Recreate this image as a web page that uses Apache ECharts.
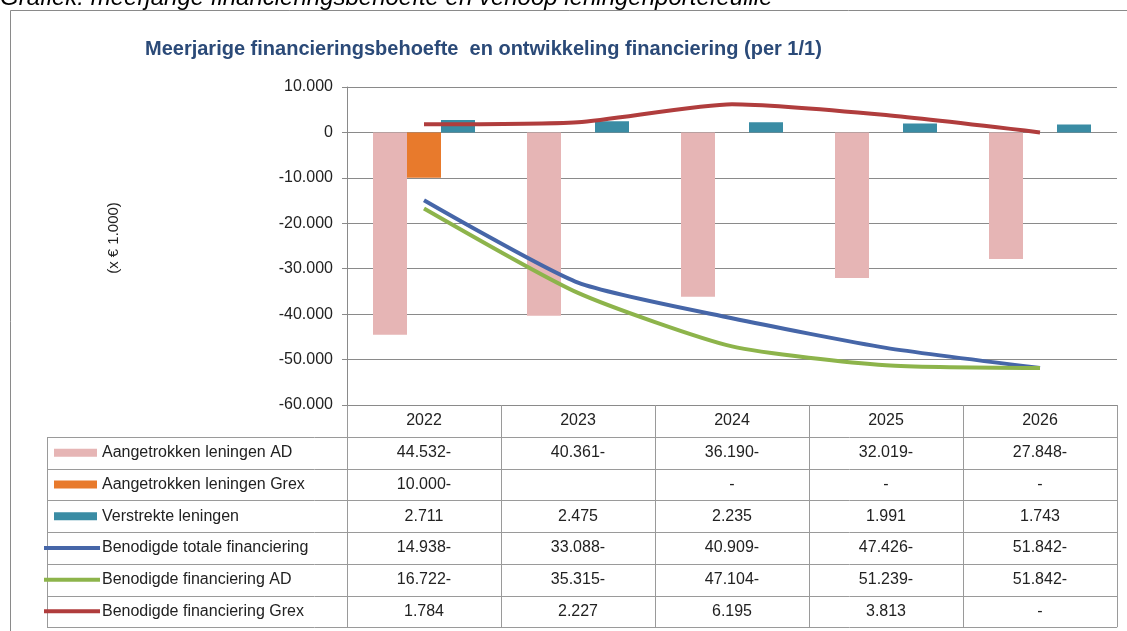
<!DOCTYPE html>
<html>
<head>
<meta charset="UTF-8">
<title>Meerjarige financieringsbehoefte</title>
<script type="text/javascript" src="https://cdn.jsdelivr.net/npm/echarts@6/dist/echarts.min.js"></script>
<style>body{margin:0;background:#fff}</style>
</head>
<body>
	<div id="box" style="width:1127px;height:631px;"></div>
	<script type="text/javascript">
		// data (x € 1.000)
		var years = ['2022', '2023', '2024', '2025', '2026'];
		var adLeningen = [-44532, -40361, -36190, -32019, -27848];
		var grexLeningen = [-10000, null, 0, 0, 0];
		var verstrekt = [2711, 2475, 2235, 1991, 1743];
		var totaalFin = [-14938, -33088, -40909, -47426, -51842];
		var adFin = [-16722, -35315, -47104, -51239, -51842];
		var grexFin = [1784, 2227, 6195, 3813, 0];

		var names = ['Aangetrokken leningen AD', 'Aangetrokken leningen Grex', 'Verstrekte leningen',
			'Benodigde totale financiering', 'Benodigde financiering AD', 'Benodigde financiering Grex'];
		var colors = ['#e6b5b5', '#e87a2c', '#3a8ca4', '#4666a8', '#8db44b', '#b03d3d'];
		var rows = [adLeningen, grexLeningen, verstrekt, totaalFin, adFin, grexFin];

		var font = 'Liberation Sans';
		var fs = 16;
		var gridL = 347, gridR = 1117, gridT = 87, gridB = 405;
		var tblL = 47, headH = 32, rowH = 31.7;

		function dots(n) {
			return String(Math.abs(n)).replace(/\B(?=(\d{3})+(?!\d))/g, '.');
		}
		function cell(v) {
			if (v === null) return '';
			if (v === 0) return '-';
			return dots(v) + (v < 0 ? '-' : '');
		}

		var mychart = echarts.init(document.getElementById('box'));
		var series = [];
		for (var i = 0; i < 3; i++) {
			series.push({ name: names[i], type: 'bar', data: rows[i], barWidth: 34, barGap: '0%',
				itemStyle: { color: colors[i] } });
		}
		for (var i = 3; i < 6; i++) {
			series.push({ name: names[i], type: 'line', data: rows[i], smooth: 0.2, showSymbol: false,
				lineStyle: { color: colors[i], width: 4 }, itemStyle: { color: colors[i] } });
		}

		var option = {
			animation: false,
			title: {
				text: 'Meerjarige financieringsbehoefte  en ontwikkeling financiering (per 1/1)',
				left: 140, top: 34,
				textStyle: { fontFamily: font, fontSize: 20, fontWeight: 'bold', color: '#2b4a78' }
			},
			grid: { left: gridL, right: 1127 - gridR, top: gridT, bottom: 631 - gridB },
			xAxis: {
				type: 'category', data: years,
				axisLine: { show: false }, axisTick: { show: false },
				axisLabel: { margin: 8, fontFamily: font, fontSize: fs, color: '#222' }
			},
			yAxis: {
				type: 'value', min: -60000, max: 10000, interval: 10000,
				name: '(x € 1.000)', nameLocation: 'middle', nameRotate: 90, nameGap: 226,
				nameTextStyle: { fontFamily: font, fontSize: 15, color: '#222', padding: [0, 0, 0, 16] },
				axisLine: { show: true, lineStyle: { color: '#8a8a8a' } },
				axisTick: { show: true, length: 5, lineStyle: { color: '#8a8a8a' } },
				splitLine: { lineStyle: { color: '#8a8a8a' } },
				axisLabel: { margin: 14, fontFamily: font, fontSize: fs, color: '#222',
					formatter: function (v) { return v === 0 ? '0' : (v < 0 ? '-' : '') + dots(v); } }
			},
			series: series
		};
		mychart.setOption(option);

		// data table + legend keys under the plot
		var g = [];
		var lineStyle = { stroke: '#9a9a9a', lineWidth: 1 };
		g.push({ type: 'text', left: 0, top: -14, style: {
			text: 'Grafiek: meerjarige financieringsbehoefte en verloop leningenportefeuille',
			font: 'italic 24px Liberation Sans', fill: '#000' } });
		g.push({ type: 'rect', shape: { x: 10.5, y: 10.5, width: 1300, height: 800 },
			style: { fill: '#fff', stroke: '#8a8a8a', lineWidth: 1 }, z: -1 });

		var tblB = gridB + headH + rows.length * rowH;
		for (var r = 0; r <= rows.length; r++) {
			var y = Math.round(gridB + headH + r * rowH) + 0.5;
			g.push({ type: 'line', shape: { x1: tblL, y1: y, x2: gridR, y2: y }, style: lineStyle });
		}
		g.push({ type: 'line', shape: { x1: tblL + 0.5, y1: gridB + headH, x2: tblL + 0.5, y2: tblB }, style: lineStyle });
		var step = (gridR - gridL) / years.length;
		for (var c = 0; c <= years.length; c++) {
			var x = Math.round(gridL + c * step) + 0.5;
			g.push({ type: 'line', shape: { x1: x, y1: gridB, x2: x, y2: tblB }, style: lineStyle });
		}
		for (var r = 0; r < rows.length; r++) {
			var cy = gridB + headH + (r + 0.5) * rowH;
			if (r < 3) {
				g.push({ type: 'rect', shape: { x: 54, y: cy - 4, width: 43, height: 8 }, style: { fill: colors[r] } });
			} else {
				g.push({ type: 'line', shape: { x1: 44, y1: cy, x2: 100, y2: cy },
					style: { stroke: colors[r], lineWidth: 4 } });
			}
			g.push({ type: 'text', x: 102, y: cy, style: { text: names[r], font: fs + 'px Liberation Sans',
				fill: '#222', textVerticalAlign: 'middle', verticalAlign: 'middle' } });
			for (var c = 0; c < years.length; c++) {
				var px = mychart.convertToPixel({ xAxisIndex: 0 }, c);
				g.push({ type: 'text', x: px, y: cy, style: { text: cell(rows[r][c]), font: fs + 'px Liberation Sans',
					fill: '#222', align: 'center', textAlign: 'center', verticalAlign: 'middle', textVerticalAlign: 'middle' } });
			}
		}
		mychart.setOption({ graphic: g });
	</script>
</body>
</html>
